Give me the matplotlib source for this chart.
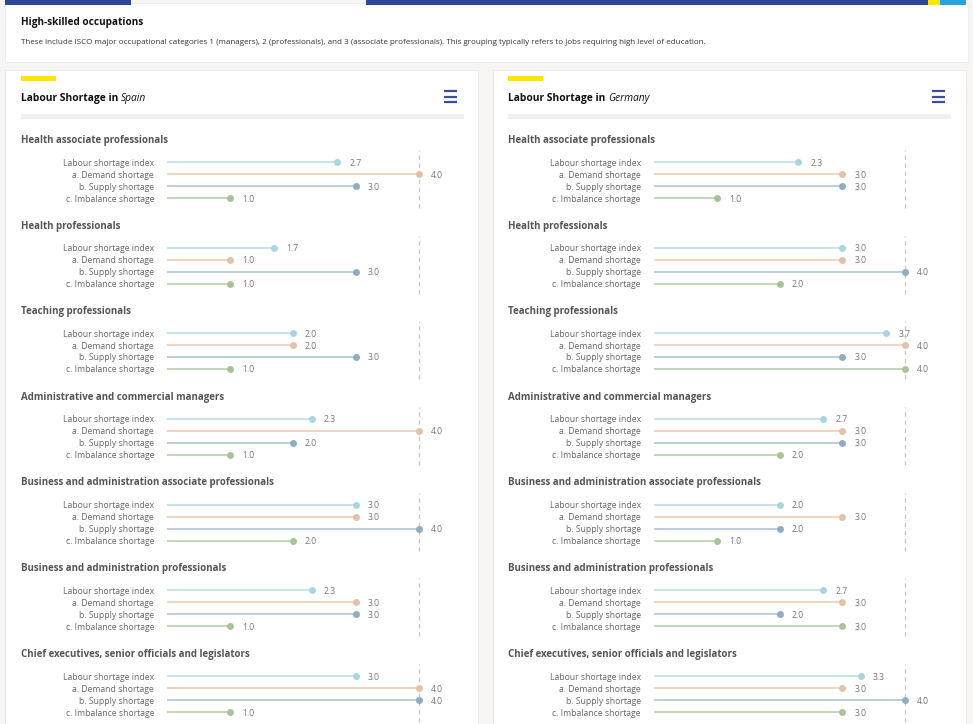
import matplotlib.pyplot as plt
from matplotlib.patches import Rectangle

plt.rcParams['font.family'] = ['Open Sans', 'DejaVu Sans']

occupations = ["Health associate professionals",
               "Health professionals",
               "Teaching professionals",
               "Administrative and commercial managers",
               "Business and administration associate professionals",
               "Business and administration professionals",
               "Chief executives, senior officials and legislators"]
measures = ["Labour shortage index", "a. Demand shortage",
            "b. Supply shortage", "c. Imbalance shortage"]

# values per occupation: index, demand, supply, imbalance
spain = [[2.7, 4.0, 3.0, 1.0],
         [1.7, 1.0, 3.0, 1.0],
         [2.0, 2.0, 3.0, 1.0],
         [2.3, 4.0, 2.0, 1.0],
         [3.0, 3.0, 4.0, 2.0],
         [2.3, 3.0, 3.0, 1.0],
         [3.0, 4.0, 4.0, 1.0]]
germany = [[2.3, 3.0, 3.0, 1.0],
           [3.0, 3.0, 4.0, 2.0],
           [3.7, 4.0, 3.0, 4.0],
           [2.7, 3.0, 3.0, 2.0],
           [2.0, 3.0, 2.0, 1.0],
           [2.7, 3.0, 2.0, 3.0],
           [3.3, 3.0, 4.0, 3.0]]

dot_cols = ['#a9d4e1', '#e2c1a7', '#8eadc1', '#a8c399']
line_cols = ['#c2e1ea', '#eed2bd', '#b5c9d6', '#bed4b1']

W, H = 973, 724
fig = plt.figure(figsize=(W / 100, H / 100), dpi=100)
fig.patch.set_facecolor('#f6f5f3')
bg = fig.add_axes([0, 0, 1, 1])
bg.set_xlim(0, W)
bg.set_ylim(H, 0)
bg.axis('off')

# header card
bg.add_patch(Rectangle((5, 3), 963, 59, fc='white', ec='#ebebeb', lw=0.6))
for x0, x1, c in [(5, 131, '#2f4797'), (366, 928, '#2f4797'),
                  (928, 940, '#ffe500'), (940, 966, '#29a3dc')]:
    bg.add_patch(Rectangle((x0, 0), x1 - x0, 4.5, fc=c, ec='none'))
bg.text(21, 22, "High-skilled occupations", fontsize=7.2, fontweight='bold',
        color='#111111', va='center')
bg.text(21, 43, "These include ISCO major occupational categories 1 (managers), "
        "2 (professionals), and 3 (associate professionals). This grouping "
        "typically refers to jobs requiring high level of education.",
        fontsize=5.75, color='#333333', va='center')

panels = [("Spain", spain, 5, 21, 167, 63.0),
          ("Germany", germany, 493, 508, 654, 62.75)]
title_y = [139, 224.5, 310, 396, 481.5, 567, 653]

fig.canvas.draw()
renderer = fig.canvas.get_renderer()

for country, data, cx, tx, x0, unit in panels:
    bg.add_patch(Rectangle((cx, 70), 473, 660, fc='white', ec='#e8e8e8', lw=0.6))
    bg.add_patch(Rectangle((tx, 76), 35, 5, fc='#ffe600', ec='none'))
    bg.add_patch(Rectangle((tx, 114), 443, 4.5, fc='#f0f0f0', ec='none'))
    for yy in [91, 96.5, 102]:
        bg.plot([cx + 439, cx + 452], [yy, yy], color='#3b4c9c', lw=1.6,
                solid_capstyle='butt')
    t1 = bg.text(tx, 99, "Labour Shortage in ", fontsize=7.4, fontweight='bold',
                 color='#111111', va='center')
    ext = t1.get_window_extent(renderer)
    bg.text(ext.x1, 99, country, fontsize=7.4, style='italic',
            color='#111111', va='center')

    for g, occ in enumerate(occupations):
        t = title_y[g]
        bg.text(tx, t + 1.5, occ, fontsize=7.0, fontweight='bold',
                color='#555555', va='center')
        top, bot = t + 11, t + 69
        ax = fig.add_axes([x0 / W, 1 - bot / H, 4 * unit / W, (bot - top) / H])
        ax.set_xlim(0, 4)
        ax.set_ylim(3 + 10 / 12, -1)
        ax.axis('off')
        ax.axvline(4, color='#c6c6c6', lw=0.9, ls=(0, (3.5, 3)), clip_on=False,
                   zorder=1)
        for i, v in enumerate(data[g]):
            ax.plot([0, v], [i, i], color=line_cols[i], lw=1.3, clip_on=False,
                    solid_capstyle='butt', zorder=2)
            ax.plot([v], [i], 'o', color=dot_cols[i], ms=5, mew=0,
                    clip_on=False, zorder=3)
            ax.annotate(measures[i], (0, i), xytext=(-13, -1),
                        textcoords='offset pixels', ha='right', va='center',
                        fontsize=6.2, color='#666666')
            ax.annotate(f"{v:.1f}", (v, i), xytext=(12, -1),
                        textcoords='offset pixels', ha='left', va='center',
                        fontsize=6.2, color='#777777')

fig.savefig('out.png', dpi=100, facecolor=fig.get_facecolor())
